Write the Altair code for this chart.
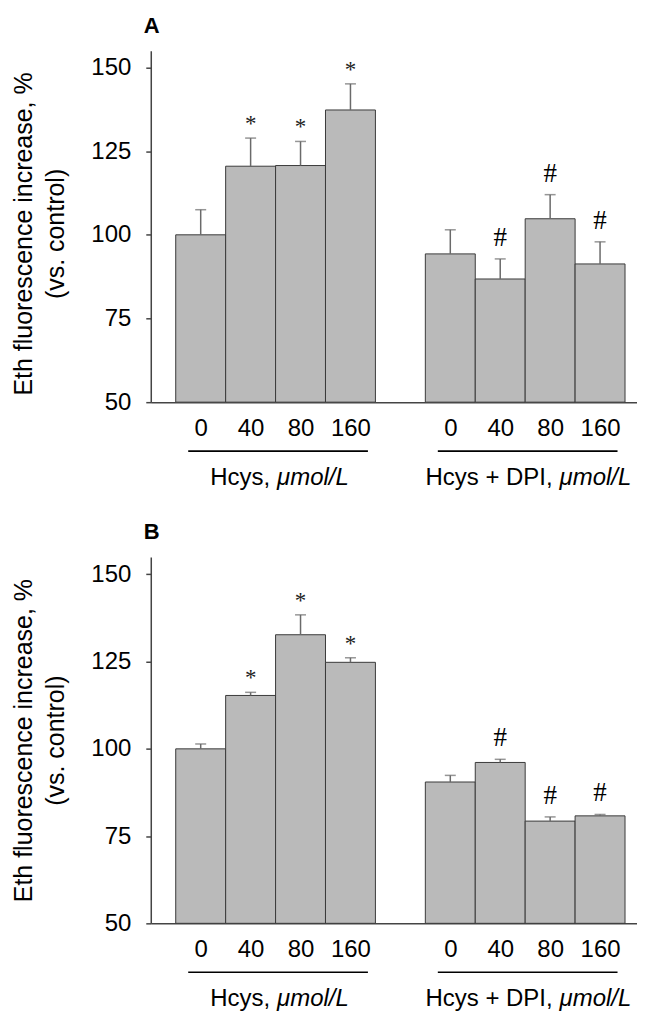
import altair as alt
import pandas as pd

# ---- data ----
doses = ["0", "40", "80", "160"]
groups = ["Hcys,", "Hcys + DPI,"]
unit = "μmol/L"

a_means = [100.0, 120.5, 120.7, 137.3, 94.3, 86.8, 104.8, 91.3]
a_errs = [7.5, 8.4, 7.2, 7.8, 7.2, 6.0, 7.2, 6.6]
a_marks = ["", "*", "*", "*", "", "#", "#", "#"]

b_means = [100.0, 115.3, 132.7, 124.8, 90.5, 96.1, 79.3, 80.8]
b_errs = [1.4, 0.9, 5.7, 1.3, 1.9, 0.9, 1.2, 0.4]
b_marks = ["", "*", "*", "*", "", "#", "#", "#"]

y_ticks = [50, 75, 100, 125, 150]

FONT = "Liberation Sans"
SERIF = "Liberation Serif"
BAR_FILL = "#bababa"
BAR_STROKE = "#3a3a3a"
ERR_COLOR = "#6a6a6a"
AX_COLOR = "#444444"
PLOT_W = 487
XS = alt.Scale(domain=[-0.5, 9.24], nice=False, zero=False)
YS = alt.Scale(domain=[50, 155], nice=False, zero=False)


def panel(means, errs, marks, letter, height, title_shift):
    rows = []
    for i, (m, e, s) in enumerate(zip(means, errs, marks)):
        g, d = divmod(i, len(doses))
        slot = g * (len(doses) + 1) + d
        rows.append({"slot": slot, "slot_end": slot + 1, "center": slot + 0.5,
                     "mean": m, "hi": m + e, "mark": s})
    df = pd.DataFrame(rows)

    x_axis = alt.Axis(
        values=list(df["center"]),
        labelExpr="%s[floor(datum.value) %% %d]" % (str(doses), len(doses) + 1),
        ticks=False, grid=False, domainColor=AX_COLOR, domainWidth=1.5,
        labelFontSize=24, labelFont=FONT, labelColor="black", labelPadding=14,
        title=None,
    )
    y_axis = alt.Axis(
        values=y_ticks, grid=False, domainColor=AX_COLOR, domainWidth=1.5,
        tickColor=AX_COLOR, tickSize=5, tickWidth=1.5,
        labelFontSize=24, labelFont=FONT, labelColor="black", labelPadding=15,
        title=["Eth fluorescence increase, %", "(vs. control)"],
        titleFont=FONT, titleFontSize=25, titleFontWeight="normal",
        titleColor="black", titlePadding=22, titleLineHeight=32,
        titleY=height / 2 + title_shift,
    )

    base = alt.Chart(df)
    bars = base.mark_bar(fill=BAR_FILL, stroke=BAR_STROKE, strokeWidth=1).encode(
        x=alt.X("slot:Q", scale=XS, axis=x_axis),
        x2="slot_end:Q",
        y=alt.Y("mean:Q", scale=YS, axis=y_axis),
        y2=alt.Y2(datum=50),
    )
    err = base.mark_rule(color=ERR_COLOR, strokeWidth=1.5).encode(
        x="center:Q", y="mean:Q", y2="hi:Q")
    cap = base.mark_tick(color=ERR_COLOR, orient="horizontal", size=11,
                         thickness=1.5).encode(x="center:Q", y="hi:Q")
    stars = base.transform_filter("datum.mark == '*'").mark_text(
        font=SERIF, fontSize=23, fontWeight="normal", baseline="middle", dy=-14,
        color="#222222"
    ).encode(x="center:Q", y="hi:Q", text="mark:N")
    hashes = base.transform_filter("datum.mark == '#'").mark_text(
        font=SERIF, fontSize=27, baseline="middle", dy=-21, color="black"
    ).encode(x="center:Q", y="hi:Q", text="mark:N")

    gdf = pd.DataFrame({
        "name": groups,
        "start": [g * (len(doses) + 1) for g in range(len(groups))],
    })
    gdf["end"] = gdf["start"] + len(doses)
    gdf["mid"] = gdf["start"] + len(doses) / 2
    gbase = alt.Chart(gdf)
    underline = gbase.transform_calculate(
        s="datum.start + 0.25", e="datum.end - 0.15"
    ).mark_rule(color="black", strokeWidth=1.6).encode(
        x="s:Q", x2="e:Q", y=alt.value(height + 49))

    layers = [bars, err, cap, stars, hashes, underline]
    shifts = [-2, 31]
    gap = 3.5
    for gi in range(len(groups)):
        sub = gbase.transform_filter("datum.start == %d" % (gi * (len(doses) + 1)))
        layers.append(sub.mark_text(font=FONT, fontSize=24, align="right",
                                    baseline="middle", dx=shifts[gi] - gap,
                                    color="black")
                      .encode(x="mid:Q", y=alt.value(height + 76), text="name:N"))
        layers.append(sub.mark_text(font=FONT, fontSize=24, align="left",
                                    fontStyle="italic", baseline="middle",
                                    dx=shifts[gi] + gap, color="black")
                      .encode(x="mid:Q", y=alt.value(height + 76),
                              text=alt.value(unit)))

    return alt.layer(*layers).properties(
        width=PLOT_W, height=height,
        title=alt.TitleParams(text=letter, anchor="start", frame="group",
                              font=FONT, fontSize=22, fontWeight="bold",
                              color="black", dx=-7, offset=12.5),
    )


chart = alt.vconcat(
    panel(a_means, a_errs, a_marks, "A", 352, 7),
    panel(b_means, b_errs, b_marks, "B", 367, 0),
    spacing=31,
).properties(
    padding={"left": 3, "top": 6, "right": 0, "bottom": 0}
).configure_view(stroke=None)

chart.save("out.html", embed_options={"renderer": "svg", "actions": False})
